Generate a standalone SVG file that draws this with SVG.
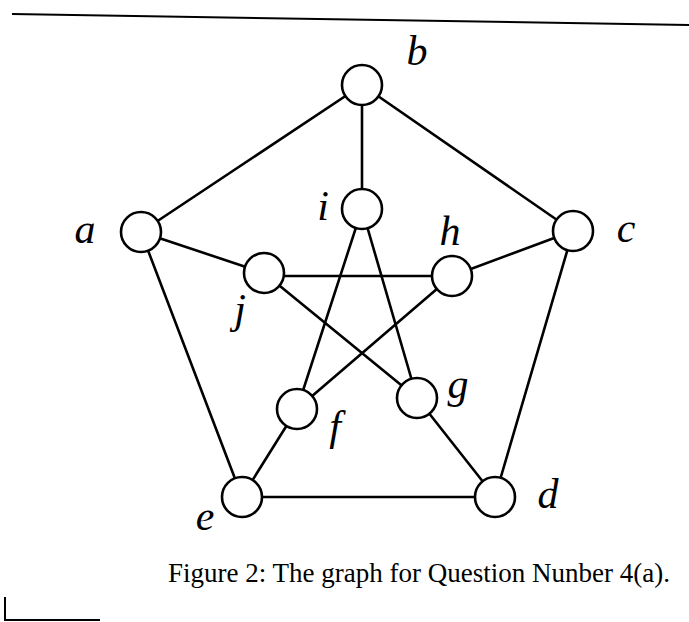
<svg xmlns="http://www.w3.org/2000/svg" width="689" height="622" viewBox="0 0 689 622">
<style>
.edge{stroke:#000;stroke-width:2.6;fill:none;stroke-linecap:round}
.node circle{fill:#fff;stroke:#000;stroke-width:2.6}
.lbl{font-family:"Liberation Serif",serif;font-style:italic;font-size:42px;fill:#000;text-anchor:middle}
.cap{font-family:"Liberation Serif",serif;font-size:27px;fill:#000}
.rule{stroke:#000;stroke-width:2;fill:none}
</style>
<rect width="689" height="622" fill="#fff"/>
<line class="rule" x1="12" y1="14" x2="689" y2="25"/>
<g id="edges">
<line class="edge" x1="362" y1="85" x2="141" y2="232"/>
<line class="edge" x1="362" y1="85" x2="573" y2="231"/>
<line class="edge" x1="362" y1="85" x2="362" y2="209"/>
<line class="edge" x1="141" y1="232" x2="264" y2="273"/>
<line class="edge" x1="141" y1="232" x2="242" y2="497"/>
<line class="edge" x1="573" y1="231" x2="452" y2="276"/>
<line class="edge" x1="573" y1="231" x2="495" y2="497"/>
<line class="edge" x1="242" y1="497" x2="495" y2="497"/>
<line class="edge" x1="242" y1="497" x2="297" y2="409"/>
<line class="edge" x1="495" y1="497" x2="417" y2="398"/>
<line class="edge" x1="362" y1="209" x2="297" y2="409"/>
<line class="edge" x1="362" y1="209" x2="417" y2="398"/>
<line class="edge" x1="264" y1="276" x2="452" y2="276"/>
<line class="edge" x1="264" y1="273" x2="417" y2="398"/>
<line class="edge" x1="452" y1="276" x2="297" y2="409"/>
</g>
<g id="node-b" class="node"><circle cx="362" cy="85" r="20"/><text class="lbl" x="417" y="65">b</text></g>
<g id="node-a" class="node"><circle cx="141" cy="232" r="20"/><text class="lbl" x="85" y="243">a</text></g>
<g id="node-c" class="node"><circle cx="573" cy="231" r="20"/><text class="lbl" x="626" y="242">c</text></g>
<g id="node-i" class="node"><circle cx="362" cy="209" r="20"/><text class="lbl" x="323" y="220">i</text></g>
<g id="node-h" class="node"><circle cx="452" cy="276" r="20"/><text class="lbl" x="450" y="245">h</text></g>
<g id="node-j" class="node"><circle cx="264" cy="273" r="20"/><text class="lbl" x="240" y="323">j</text></g>
<g id="node-f" class="node"><circle cx="297" cy="409" r="20"/><text class="lbl" x="335" y="440">f</text></g>
<g id="node-g" class="node"><circle cx="417" cy="398" r="20"/><text class="lbl" x="458" y="398">g</text></g>
<g id="node-e" class="node"><circle cx="242" cy="497" r="20"/><text class="lbl" x="205" y="530">e</text></g>
<g id="node-d" class="node"><circle cx="495" cy="497" r="20"/><text class="lbl" x="548" y="508">d</text></g>
<text class="cap" x="168" y="582" textLength="502" lengthAdjust="spacingAndGlyphs">Figure 2: The graph for Question Nunber 4(a).</text>
<path class="rule" d="M5 597 V620 H100"/>
</svg>
